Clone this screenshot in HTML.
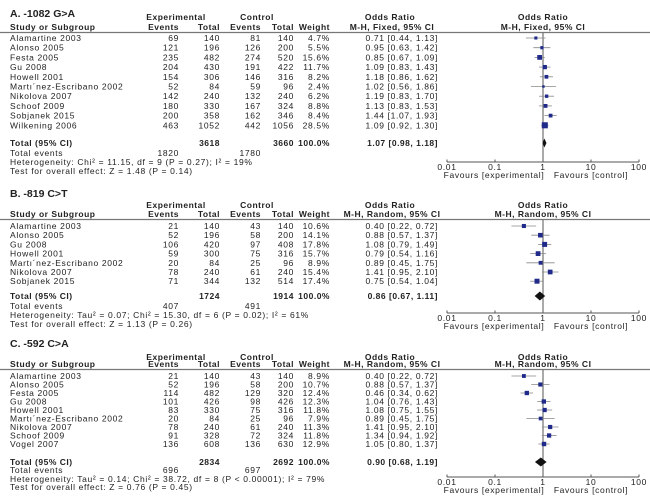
<!DOCTYPE html>
<html><head><meta charset="utf-8">
<style>
body{margin:0;background:#fff;}
svg{display:block;font-family:"Liberation Sans",Arial,sans-serif;}
text{fill:#222;font-size:8.5px;letter-spacing:0.65px;}
.b{font-weight:bold;letter-spacing:0.5px;}
</style></head>
<body>
<svg id="chart" width="650" height="496" viewBox="0 0 650 496"></svg>
<script>
// ---- Panel A data ----
const studiesA=["Alamartine 2003","Alonso 2005","Festa 2005","Gu 2008","Howell 2001","Martı´nez-Escribano 2002","Nikolova 2007","Schoof 2009","Sobjanek 2015","Wilkening 2006"];
const expEvA=[69,121,235,204,154,52,142,180,200,463];
const expTotA=[140,196,482,430,306,84,240,330,358,1052];
const ctlEvA=[81,126,274,191,146,59,132,167,162,442];
const ctlTotA=[140,200,520,422,316,96,240,324,346,1056];
const weightA=[4.7,5.5,15.6,11.7,8.2,2.4,6.2,8.8,8.4,28.5];
const orA=[0.71,0.95,0.85,1.09,1.18,1.02,1.19,1.13,1.44,1.09];
const loA=[0.44,0.63,0.67,0.83,0.86,0.56,0.83,0.83,1.07,0.92];
const hiA=[1.13,1.42,1.09,1.43,1.62,1.86,1.70,1.53,1.93,1.30];
const pooledA=[1.07,0.98,1.18];
const totalsA=[3618,3660,1820,1780];
// ---- Panel B data ----
const studiesB=["Alamartine 2003","Alonso 2005","Gu 2008","Howell 2001","Martı´nez-Escribano 2002","Nikolova 2007","Sobjanek 2015"];
const expEvB=[21,52,106,59,20,78,71];
const expTotB=[140,196,420,300,84,240,344];
const ctlEvB=[43,58,97,75,25,61,132];
const ctlTotB=[140,200,408,316,96,240,514];
const weightB=[10.6,14.1,17.8,15.7,8.9,15.4,17.4];
const orB=[0.40,0.88,1.08,0.79,0.89,1.41,0.75];
const loB=[0.22,0.57,0.79,0.54,0.45,0.95,0.54];
const hiB=[0.72,1.37,1.49,1.16,1.75,2.10,1.04];
const pooledB=[0.86,0.67,1.11];
const totalsB=[1724,1914,407,491];
// ---- Panel C data ----
const studiesC=["Alamartine 2003","Alonso 2005","Festa 2005","Gu 2008","Howell 2001","Martı´nez-Escribano 2002","Nikolova 2007","Schoof 2009","Vogel 2007"];
const expEvC=[21,52,114,101,83,20,78,91,136];
const expTotC=[140,196,482,426,330,84,240,328,608];
const ctlEvC=[43,58,129,98,75,25,61,72,136];
const ctlTotC=[140,200,320,426,316,96,240,324,630];
const weightC=[8.9,10.7,12.4,12.3,11.8,7.9,11.3,11.8,12.9];
const orC=[0.40,0.88,0.46,1.04,1.08,0.89,1.41,1.34,1.05];
const loC=[0.22,0.57,0.34,0.76,0.75,0.45,0.95,0.94,0.80];
const hiC=[0.72,1.37,0.62,1.43,1.55,1.75,2.10,1.92,1.37];
const pooledC=[0.90,0.68,1.19];
const totalsC=[2834,2692,696,697];
const tickVals=[0.01,0.1,1,10,100];
const tickLabels=["0.01","0.1","1","10","100"];

const NS="http://www.w3.org/2000/svg";
const svg=document.getElementById('chart');
function mk(tag,attrs,parent){const e=document.createElementNS(NS,tag);for(const k in attrs)e.setAttribute(k,attrs[k]);(parent||svg).appendChild(e);return e;}
function txt(x,y,s,anchor,cls,parent,size){const e=mk('text',{x:x,y:y,'text-anchor':anchor||'start'},parent);if(cls)e.setAttribute('class',cls);if(size)e.style.fontSize=size+'px';e.textContent=s;return e;}
function f2(v){return v.toFixed(2);}

function panel(cfg){
  const g=mk('g',{});
  
  
  const xs=v=>543+48*Math.log10(v);
  const t=txt(10,cfg.titleY,cfg.title,'start','b',g,10.5);
  t.style.letterSpacing='0px';
  
  
  txt(176,cfg.h1,'Experimental','middle','b',g);
  txt(257,cfg.h1,'Control','middle','b',g);
  txt(390,cfg.h1,'Odds Ratio','middle','b',g);
  txt(543,cfg.h1,'Odds Ratio','middle','b',g);
  txt(10,cfg.h2,'Study or Subgroup','start','b',g);
  txt(179,cfg.h2,'Events','end','b',g);
  txt(220,cfg.h2,'Total','end','b',g);
  txt(261,cfg.h2,'Events','end','b',g);
  txt(294,cfg.h2,'Total','end','b',g);
  txt(330,cfg.h2,'Weight','end','b',g);
  txt(392,cfg.h2,cfg.method,'middle','b',g);
  txt(543,cfg.h2,cfg.method,'middle','b',g);
  mk('line',{x1:0,x2:650,y1:cfg.h2+2.5,y2:cfg.h2+2.5,stroke:'#777','stroke-width':1.2},g);
  const n=cfg.studies.length;
  const axisY=cfg.axisY;
  mk('line',{x1:xs(1),x2:xs(1),y1:cfg.h2+3,y2:axisY,stroke:'#555','stroke-width':1},g);
  for(let i=0;i<n;i++){
    const y=cfg.row0+i*cfg.dy;
    const r=mk('g',{},g);
    
    
    txt(10,y+3,cfg.studies[i],'start',null,r);
    txt(179,y+3,String(cfg.ee[i]),'end',null,r);
    txt(220,y+3,String(cfg.et[i]),'end',null,r);
    txt(261,y+3,String(cfg.ce[i]),'end',null,r);
    txt(294,y+3,String(cfg.ct[i]),'end',null,r);
    txt(330,y+3,cfg.w[i].toFixed(1)+'%','end',null,r);
    txt(438,y+3,f2(cfg.or[i])+' ['+f2(cfg.lo[i])+', '+f2(cfg.hi[i])+']','end',null,r);
    const ci=mk('line',{x1:xs(cfg.lo[i]),x2:xs(cfg.hi[i]),y1:y,y2:y,stroke:'#888','stroke-width':0.8},r);
    
    
    const s=1+Math.sqrt(cfg.w[i])*0.95;
    const sq=mk('rect',{x:xs(cfg.or[i])-s/2,y:y-s/2,width:s,height:s,fill:'#1f2a8a'},r);
    
    
  }
  const ty=cfg.totalY;
  txt(10,ty+3,'Total (95% CI)','start','b',g);
  txt(220,ty+3,String(cfg.tot[0]),'end','b',g);
  txt(294,ty+3,String(cfg.tot[1]),'end','b',g);
  txt(330,ty+3,'100.0%','end','b',g);
  txt(438,ty+3,f2(cfg.pool[0])+' ['+f2(cfg.pool[1])+', '+f2(cfg.pool[2])+']','end','b',g);
  const d=mk('polygon',{points:`${xs(cfg.pool[1])},${ty} ${xs(cfg.pool[0])},${ty-4.5} ${xs(cfg.pool[2])},${ty} ${xs(cfg.pool[0])},${ty+4.5}`,fill:'#111'},g);
  
  
  txt(10,cfg.evY+3,'Total events','start',null,g);
  txt(179,cfg.evY+3,String(cfg.tot[2]),'end',null,g);
  txt(261,cfg.evY+3,String(cfg.tot[3]),'end',null,g);
  txt(10,cfg.hetY+3,cfg.het,'start',null,g);
  txt(10,cfg.testY+3,cfg.test,'start',null,g);
  const ax=mk('g',{},g);
  
  
  mk('line',{x1:xs(0.01),x2:xs(100),y1:axisY,y2:axisY,stroke:'#555','stroke-width':1},ax);
  for(let i=0;i<tickVals.length;i++){
    const x=xs(tickVals[i]);
    mk('line',{x1:x,x2:x,y1:axisY-2.5,y2:axisY,stroke:'#555','stroke-width':1},ax);
    txt(x,axisY+8,tickLabels[i],'middle',null,ax);
  }
  txt(494,axisY+16,'Favours [experimental]','middle',null,ax);
  txt(591,axisY+16,'Favours [control]','middle',null,ax);
}

panel({name:'panel-a',title:'A. -1082 G>A',method:'M-H, Fixed, 95% CI',titleY:17,h1:20,h2:30,row0:38,dy:9.7,totalY:143,evY:153,hetY:162,testY:171,axisY:162,
  studies:studiesA,ee:expEvA,et:expTotA,ce:ctlEvA,ct:ctlTotA,w:weightA,or:orA,lo:loA,hi:hiA,pool:pooledA,tot:totalsA,
  het:'Heterogeneity: Chi² = 11.15, df = 9 (P = 0.27); I² = 19%',test:'Test for overall effect: Z = 1.48 (P = 0.14)'});
panel({name:'panel-b',title:'B. -819 C>T',method:'M-H, Random, 95% CI',titleY:197,h1:208,h2:217,row0:226,dy:9.2,totalY:296,evY:306,hetY:315,testY:324,axisY:313,
  studies:studiesB,ee:expEvB,et:expTotB,ce:ctlEvB,ct:ctlTotB,w:weightB,or:orB,lo:loB,hi:hiB,pool:pooledB,tot:totalsB,
  het:'Heterogeneity: Tau² = 0.07; Chi² = 15.30, df = 6 (P = 0.02); I² = 61%',test:'Test for overall effect: Z = 1.13 (P = 0.26)'});
panel({name:'panel-c',title:'C. -592 C>A',method:'M-H, Random, 95% CI',titleY:347,h1:360,h2:367,row0:376,dy:8.5,totalY:462,evY:470,hetY:479,testY:487,axisY:477,
  studies:studiesC,ee:expEvC,et:expTotC,ce:ctlEvC,ct:ctlTotC,w:weightC,or:orC,lo:loC,hi:hiC,pool:pooledC,tot:totalsC,
  het:'Heterogeneity: Tau² = 0.14; Chi² = 38.72, df = 8 (P < 0.00001); I² = 79%',test:'Test for overall effect: Z = 0.76 (P = 0.45)'});
</script>
</body></html>
